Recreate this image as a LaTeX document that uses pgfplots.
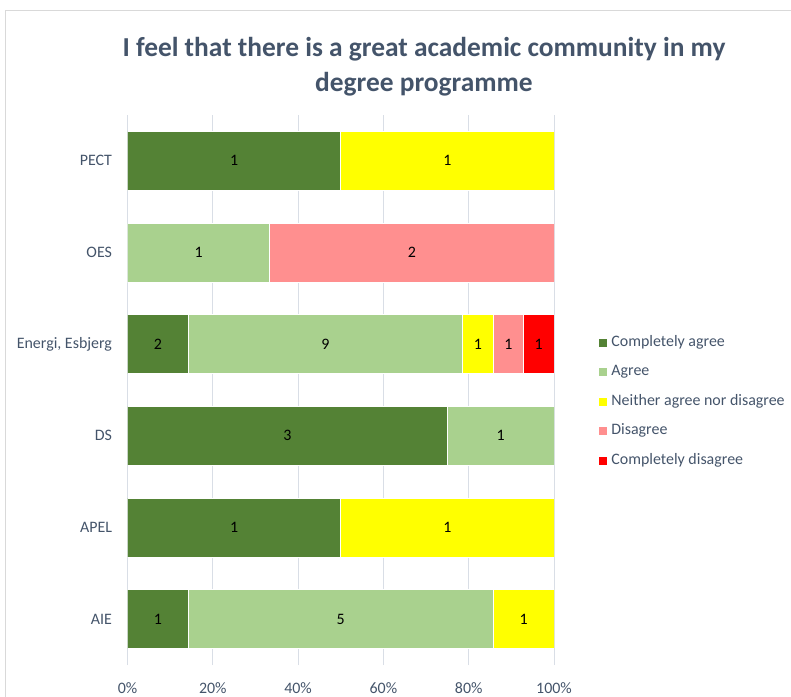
\documentclass[border=0pt]{standalone}
\usepackage{pgfplots}
\pgfplotsset{compat=1.18}
\usepackage{fontspec}
\setmainfont{Carlito}
\definecolor{cagree}{HTML}{548235}
\definecolor{agree}{HTML}{A9D18E}
\definecolor{neither}{HTML}{FFFF00}
\definecolor{disagree}{HTML}{FF8F8F}
\definecolor{cdis}{HTML}{FF0000}
\definecolor{txt}{HTML}{44546A}
\definecolor{gridc}{HTML}{D9DEE6}
\definecolor{border}{HTML}{D9D9D9}
\begin{document}
\begin{tikzpicture}
\path[use as bounding box] (0bp,0bp) rectangle (791bp,697bp);
\draw[border, line width=0.75bp] (5bp,0bp) -- (5bp,687bp) -- (791bp,687bp);
\node[txt, font=\fontsize{27.5}{35}\selectfont\bfseries, align=center] at (424bp,630bp)
  {I feel that there is a great academic community in my\\degree programme};
\begin{axis}[
  at={(127.5bp,32bp)}, anchor=south west,
  scale only axis, width=426.5bp, height=550bp,
  xbar stacked, bar width=59bp,
  xmin=0, xmax=100, ymin=-0.5, ymax=5.5,
  xtick={0,20,40,60,80,100},
  xticklabels={0\%,20\%,40\%,60\%,80\%,100\%},
  ytick={0,1,2,3,4,5},
  yticklabels={AIE,APEL,DS,{Energi, Esbjerg},OES,PECT},
  xmajorgrids, grid style={gridc, line width=0.9bp},
  major tick length=0pt,
  axis line style={draw=none},
  tick label style={txt, font=\fontsize{16}{19}\selectfont},
  xticklabel style={yshift=-14bp},
  yticklabel style={xshift=-12bp},
  point meta=explicit,
  nodes near coords={\pgfmathfloatifflags{\pgfplotspointmeta}{0}{}{\pgfmathprintnumber[assume math mode=true]{\pgfplotspointmeta}}},
  every node near coord/.append style={black, font=\fontsize{16}{19}\selectfont},
  legend style={at={(1.099,0.6058)}, anchor=north west, draw=none, fill=none,
    font=\fontsize{16}{19}\selectfont, text=txt, row sep=12.5bp,
    nodes={text height=10bp, text depth=3bp, inner ysep=2bp, inner xsep=4bp}},
  legend cell align=left,
  legend image code/.code={\fill[#1,draw=none] (0bp,-4bp) rectangle (8bp,4bp);},
  every axis plot/.append style={draw=white, line width=0.75bp},
]
\addplot[fill=cagree] coordinates {(14.286,0) [1] (50,1) [1] (75,2) [3] (14.286,3) [2] (0,4) [0] (50,5) [1]};
\addplot[fill=agree] coordinates {(71.428,0) [5] (0,1) [0] (25,2) [1] (64.285,3) [9] (33.333,4) [1] (0,5) [0]};
\addplot[fill=neither] coordinates {(14.286,0) [1] (50,1) [1] (0,2) [0] (7.143,3) [1] (0,4) [0] (50,5) [1]};
\addplot[fill=disagree] coordinates {(0,0) [0] (0,1) [0] (0,2) [0] (7.143,3) [1] (66.667,4) [2] (0,5) [0]};
\addplot[fill=cdis] coordinates {(0,0) [0] (0,1) [0] (0,2) [0] (7.143,3) [1] (0,4) [0] (0,5) [0]};
\legend{Completely agree,Agree,Neither agree nor disagree,Disagree,Completely disagree}
\end{axis}
\end{tikzpicture}
\end{document}
